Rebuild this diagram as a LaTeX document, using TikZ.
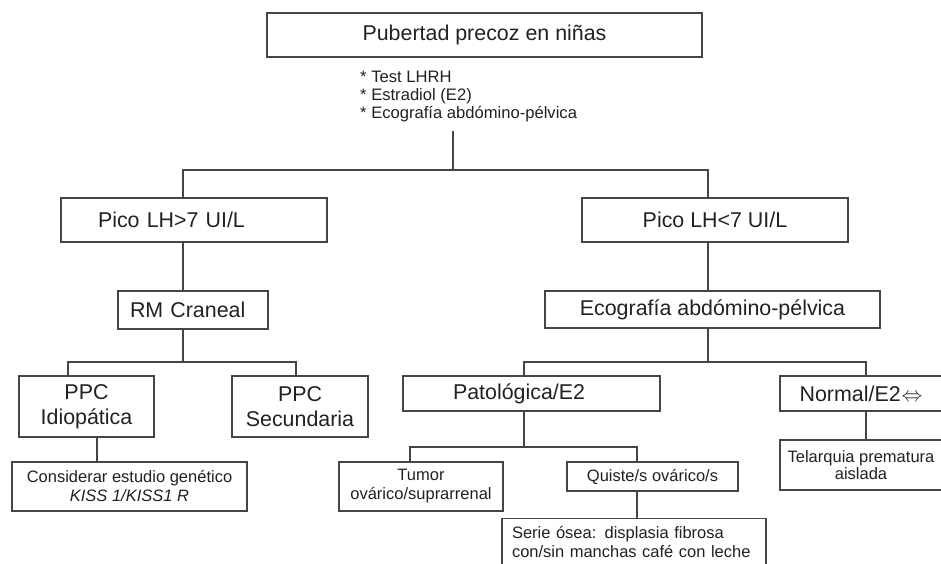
\documentclass[tikz,border=0pt]{standalone}
\usepackage{fontspec}
\setmainfont{Liberation Sans}

\definecolor{linegray}{gray}{0.27}
\definecolor{textgray}{gray}{0.13}
\newcommand{\bigtxt}{\fontsize{21.4}{25}\selectfont}
\newcommand{\smalltxt}{\fontsize{16.5}{19}\selectfont}

\tikzset{
  box/.style={draw=linegray, line width=1.3pt, inner sep=0pt, align=center, text=textgray},
  bigbox/.style={box, font=\bigtxt},
  smallbox/.style={box, font=\smalltxt},
  link/.style={draw=linegray, line width=1.3pt}
}

\begin{document}
\begin{tikzpicture}[x=1pt, y=-1pt]
    \useasboundingbox (0,0) rectangle (941,564);

    % Root and tests
    \node[bigbox, minimum width=435pt, minimum height=44pt] (pubertad) at (484.5,35) {Pubertad precoz en niñas};
    \node[anchor=north west, inner sep=0pt, align=left, text=textgray, font=\fontsize{16.6}{18}\selectfont] (tests) at (360,71)
        {* Test LHRH\\* Estradiol (E2)\\* Ecografía abdómino-pélvica};

    % LH peak
    \node[bigbox, minimum height=44pt, text width=192pt, inner xsep=37pt, align=left] (lhA) at (194,220) {Pico LH>7 UI/L};
    \node[bigbox, minimum width=266pt, minimum height=44pt] (lhB) at (715,220) {Pico LH<7 UI/L};

    % Left branch
    \node[bigbox, minimum height=38pt, text width=126pt, inner xsep=12pt, align=left] (rm) at (193,310) {RM Craneal};
    \node[bigbox, minimum width=135pt, minimum height=61pt] (idio) at (86.5,406.5) {PPC\\Idiopática};
    \node[bigbox, minimum width=136pt, minimum height=61pt] (secu) at (300,406.5) {PPC\\Secundaria};
    \node[smallbox, minimum width=235pt, minimum height=49pt] (kiss) at (129.5,486.5)
        {Considerar estudio genético\\\textit{KISS 1/KISS1 R}};

    % Right branch
    \node[bigbox, minimum width=335pt, minimum height=37pt] (eco) at (712.5,309.5) {Ecografía abdómino-pélvica};
    \node[bigbox, minimum height=35pt, text width=157pt, inner xsep=50pt, align=left] (pato) at (531.5,393.5) {Patológica/E2};
    \node[bigbox, minimum width=162pt, minimum height=35pt] (norm) at (861,393.5) {Normal/E2\kern1pt$\Leftrightarrow$};
    \node[smallbox, minimum width=164pt, minimum height=49pt] (tumor) at (421,486.5) {Tumor\\ovárico/suprarrenal};
    \node[smallbox, minimum width=171pt, minimum height=29pt] (quiste) at (652.5,476.5) {Quiste/s ovárico/s};
    \node[smallbox, minimum width=162pt, minimum height=50pt, font=\fontsize{16.5}{17}\selectfont] (tela) at (861,465) {Telarquia prematura\\aislada};
    \node[smallbox, anchor=north, text width=244pt, inner xsep=10pt, inner ysep=8pt, align=left] (serie) at (634,518)
        {Serie ósea: displasia fibrosa\\con/sin manchas café con leche};

    % Split below the tests
    \coordinate (sTop) at (453,170);
    \draw[link] ([yshift=-9pt]tests.south -| sTop) -- (sTop);
    \draw[link] (lhA.north -| 183,0) |- (sTop) -| (lhB.north -| 708,0);

    % Left connectors
    \draw[link] (lhA.south -| 183,0) -- (rm.north -| 183,0);
    \coordinate (sRM) at (183,362);
    \draw[link] (rm.south -| sRM) -- (sRM);
    \draw[link] (idio.north -| 68,0) |- (sRM) -| (secu.north -| 296,0);
    \draw[link] (idio.south -| 97,0) -- (kiss.north -| 97,0);

    % Right connectors
    \draw[link] (lhB.south -| 708,0) -- (eco.north -| 708,0);
    \coordinate (sEco) at (708,362);
    \draw[link] (eco.south -| sEco) -- (sEco);
    \draw[link] (pato.north -| 524,0) |- (sEco) -| (norm.north -| 866,0);
    \coordinate (sPato) at (524,447);
    \draw[link] (pato.south -| sPato) -- (sPato);
    \draw[link] (tumor.north -| 410,0) |- (sPato) -| (quiste.north -| 637,0);
    \draw[link] (quiste.south -| 637,0) -- (serie.north -| 637,0);
    \draw[link] (norm.south -| 866,0) -- (tela.north -| 866,0);
\end{tikzpicture}
\end{document}
